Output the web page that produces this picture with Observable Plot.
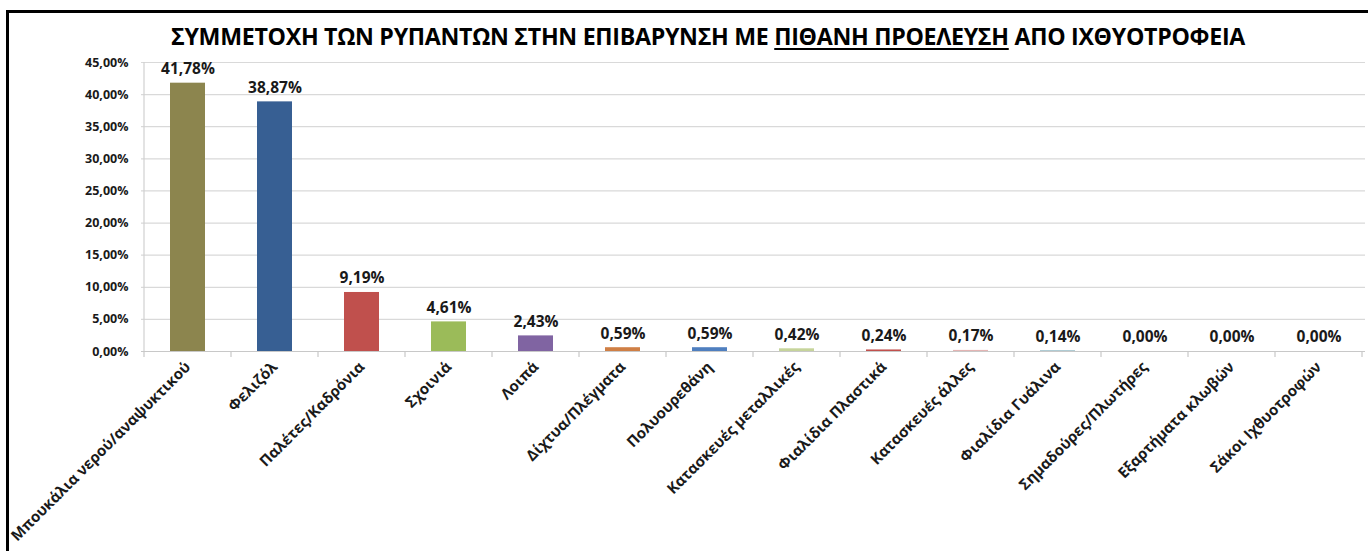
<!DOCTYPE html>
<html>
<head>
<meta charset="utf-8">
<script src="https://cdn.jsdelivr.net/npm/d3@7"></script>
<script src="https://cdn.jsdelivr.net/npm/@observablehq/plot@0.6"></script>
<style>
  html, body { margin: 0; padding: 0; background: #fff; overflow: hidden; }
  #wrap { position: relative; width: 1368px; height: 551px; overflow: hidden; }
  #frame { position: absolute; left: 6px; top: 10px; width: 1400px; height: 600px;
           border-top: 3px solid #000; border-left: 3px solid #000; box-sizing: border-box; }
  #title { position: absolute; top: 20px; left: 0; width: 1416px; text-align: center;
           font-family: "Open Sans", sans-serif; font-weight: 700; font-size: 23.2px; color: #000;
           letter-spacing: -0.3px; white-space: nowrap; }
  #title u { text-decoration-thickness: 2px; text-underline-offset: 3px; }
  #chart { position: absolute; left: 0; top: 0; }
</style>
</head>
<body>
<div id="wrap">
  <div id="frame"></div>
  <div id="chart"></div>
  <div id="title">ΣΥΜΜΕΤΟΧΗ ΤΩΝ ΡΥΠΑΝΤΩΝ ΣΤΗΝ ΕΠΙΒΑΡΥΝΣΗ ΜΕ <u>ΠΙΘΑΝΗ ΠΡΟΕΛΕΥΣΗ</u> ΑΠΟ ΙΧΘΥΟΤΡΟΦΕΙΑ</div>
</div>
<script>
const categories = [
  "Μπουκάλια νερού/αναψυκτικού",
  "Φελιζόλ",
  "Παλέτες/Καδρόνια",
  "Σχοινιά",
  "Λοιπά",
  "Δίχτυα/Πλέγματα",
  "Πολυουρεθάνη",
  "Κατασκευές μεταλλικές",
  "Φιαλίδια Πλαστικά",
  "Κατασκευές άλλες",
  "Φιαλίδια Γυάλινα",
  "Σημαδούρες/Πλωτήρες",
  "Εξαρτήματα κλωβών",
  "Σάκοι Ιχθυοτροφών"
];
const values = [41.78, 38.87, 9.19, 4.61, 2.43, 0.59, 0.59, 0.42, 0.24, 0.17, 0.14, 0.00, 0.00, 0.00];
const colors = ["#8c854e", "#375f93", "#c0504d", "#9bbb59", "#8064a2", "#cf7f45", "#4f7fbf",
                "#c6d49b", "#c0504d", "#e3b4b3", "#a6c6cf", "#cccccc", "#cccccc", "#cccccc"];
const yTicks = [0, 5, 10, 15, 20, 25, 30, 35, 40, 45];

const data = categories.map((c, i) => ({category: c, value: values[i], color: colors[i]}));
const fmt = v => v.toFixed(2).replace(".", ",") + "%";
const font = '"Open Sans", sans-serif';

const plot = Plot.plot({
  width: 1368,
  height: 551,
  marginTop: 62,
  marginBottom: 200,
  marginLeft: 141,
  marginRight: 3,
  style: {fontFamily: font, background: "transparent", color: "#1a1a1a"},
  x: {domain: categories, paddingInner: 0.6, paddingOuter: 0.3, label: null},
  y: {domain: [0, 45], label: null},
  marks: [
    Plot.gridY(yTicks, {stroke: "#d9d9d9", strokeOpacity: 1, strokeWidth: 1.2}),
    Plot.barY(data, {x: "category", y: "value", fill: "color"}),
    Plot.ruleY([0], {stroke: "#c8c8c8", strokeWidth: 1.2}),
    Plot.axisY({ticks: yTicks, tickSize: 0, tickPadding: 13, tickFormat: fmt,
                fontSize: 12.5, fontWeight: "bold", label: null, fill: "#1a1a1a"}),
    Plot.axisX({tickSize: 0, tickPadding: 13, tickRotate: -45, fontSize: 15,
                fontWeight: "bold", label: null, fill: "#1a1a1a"}),
    Plot.text(data, {x: "category", y: "value", text: d => fmt(d.value), dy: -14,
                     fontSize: 15.5, fontWeight: "bold", fill: "#1a1a1a"})
  ]
});
document.getElementById("chart").appendChild(plot);

// Category boundary ticks and y-axis line, drawn through the x and y scales
const sx = plot.scale("x");
const sy = plot.scale("y");
const half = (sx.step - sx.bandwidth) / 2;
const bounds = categories.map(c => sx.apply(c) - half);
bounds.push(sx.apply(categories[categories.length - 1]) + sx.bandwidth + half);
const svg = d3.select(plot);
const y0 = sy.apply(0);
svg.append("g")
  .attr("stroke", "#c8c8c8").attr("stroke-width", 1.2)
  .selectAll("line").data(bounds).join("line")
  .attr("x1", d => d).attr("x2", d => d)
  .attr("y1", y0).attr("y2", y0 + 6);
svg.append("line")
  .attr("stroke", "#d0d0d0").attr("stroke-width", 1.2)
  .attr("x1", bounds[0]).attr("x2", bounds[0])
  .attr("y1", sy.apply(45)).attr("y2", y0);
</script>
</body>
</html>
